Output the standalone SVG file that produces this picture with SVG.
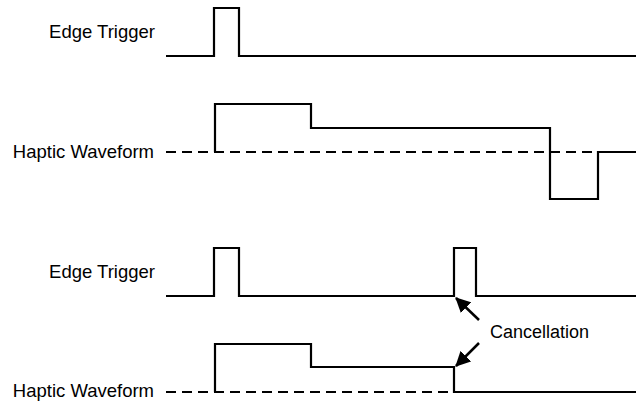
<svg xmlns="http://www.w3.org/2000/svg" width="636" height="402" viewBox="0 0 636 402">
<defs>
<style>
.sig{fill:none;stroke:#000;stroke-width:2.2;stroke-linejoin:miter;stroke-linecap:butt}
.dash{fill:none;stroke:#000;stroke-width:2.2;stroke-dasharray:10 6}
.lbl{font-family:"Liberation Sans",Arial,sans-serif;font-size:18px;fill:#000}
.big{font-size:18.5px}
.arr{fill:none;stroke:#000;stroke-width:2.5}
</style>
<marker id="ah" viewBox="0 0 14 14" refX="13" refY="7" markerWidth="15" markerHeight="15" markerUnits="userSpaceOnUse" orient="auto">
<path d="M0,0 L14,7 L0,14 Z" fill="#000"/>
</marker>
</defs>
<rect width="636" height="402" fill="#fff"/>
<g id="labels">
<text class="lbl big" x="155" y="38" text-anchor="end">Edge Trigger</text>
<text class="lbl big" x="154" y="158" text-anchor="end">Haptic Waveform</text>
<text class="lbl big" x="155" y="278" text-anchor="end">Edge Trigger</text>
<text class="lbl big" x="154" y="397" text-anchor="end">Haptic Waveform</text>
<text class="lbl" x="490" y="338">Cancellation</text>
</g>
<g id="trigger1"><path class="sig" d="M166,56 H214 V8 H239 V56 H636"/></g>
<g id="waveform1">
<path class="dash" d="M166,152 H598"/>
<path class="sig" d="M215,152 V104 H311 V128 H550 V199 H598 V152 H636"/>
</g>
<g id="trigger2"><path class="sig" d="M166,296 H214 V248 H239 V296 H454 V248 H476 V296 H636"/></g>
<g id="waveform2">
<path class="dash" d="M166,392 H454"/>
<path class="sig" d="M215,392 V344 H311 V367 H454 V392 H636"/>
</g>
<g id="connectors">
<line class="arr" x1="479" y1="320" x2="456" y2="298" marker-end="url(#ah)"/>
<line class="arr" x1="479" y1="343" x2="456" y2="366" marker-end="url(#ah)"/>
</g>
</svg>
